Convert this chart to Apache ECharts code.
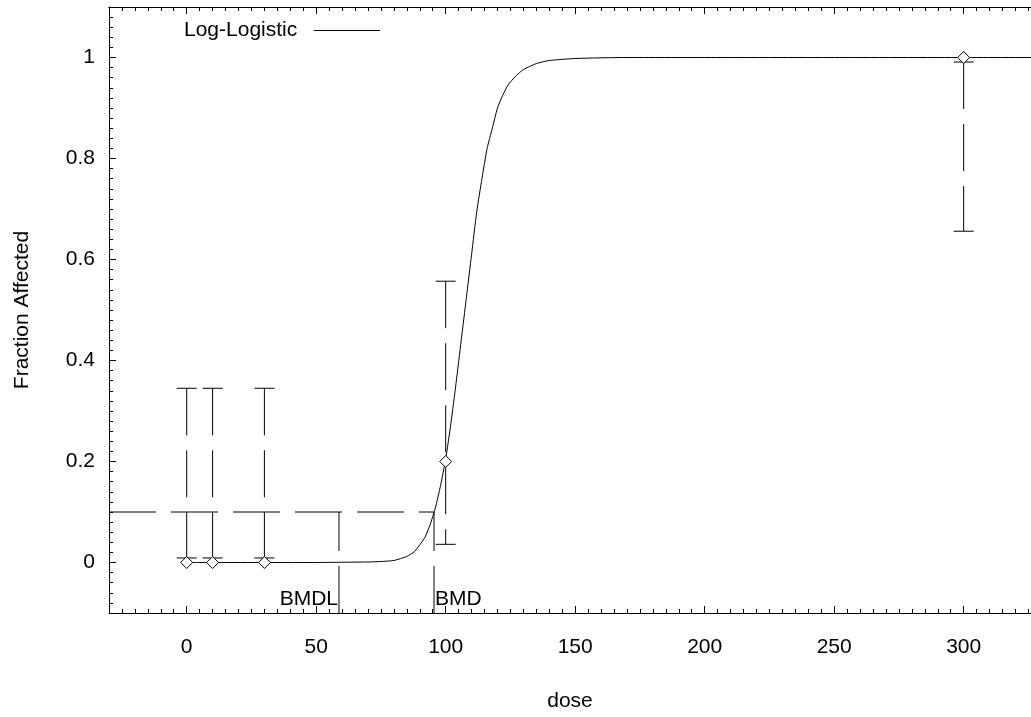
<!DOCTYPE html>
<html>
<head>
<meta charset="utf-8">
<title>Log-Logistic</title>
<script src="https://cdn.jsdelivr.net/npm/echarts@6/dist/echarts.min.js"></script>
<style>
  html, body { margin: 0; padding: 0; background: #fff; overflow: hidden; }
  #chart { width: 1031px; height: 717px; }
</style>
</head>
<body>
<div id="chart"></div>
<script>
// observed data (dose / fraction affected / confidence limits)
var doses = [0, 10, 30, 100, 300];
var fractions = [0, 0, 0, 0.2, 1];
var lowerCI = [0.009, 0.009, 0.009, 0.036, 0.656];
var upperCI = [0.345, 0.345, 0.345, 0.557, 0.991];

// fitted curve
var curveDose = [0, 10, 20, 30, 40, 50, 60, 70, 75, 80, 85, 88, 90, 92, 94, 96, 98, 100,
  102, 104, 106, 108, 110, 112, 114, 116, 118, 120, 122, 124, 127, 130, 135, 140, 150, 170, 200, 250, 300, 330];
var curveFrac = [0, 0, 0, 0, 0, 0, 0.0005, 0.001, 0.002, 0.004, 0.012, 0.022, 0.035, 0.05, 0.075, 0.108, 0.152, 0.205,
  0.275, 0.355, 0.44, 0.525, 0.61, 0.695, 0.76, 0.82, 0.86, 0.9, 0.925, 0.945, 0.963, 0.976, 0.988, 0.994, 0.998, 1, 1, 1, 1, 1];

// benchmark dose markers
var bmr = 0.1;
var bmd = 95.5;
var bmdl = 58.8;

// axes
var xMin = -30, xMax = 326;
var yMin = -0.1, yMax = 1.1;
var xMajor = [0, 50, 100, 150, 200, 250, 300];
var yMajor = [0, 0.2, 0.4, 0.6, 0.8, 1];
var xMinor = [];
for (var v = -30; v <= 325; v += 5) xMinor.push(v);
var yMinor = [];
for (var k = -5; k <= 55; k++) yMinor.push(Math.round(k * 2) / 100);

var FONT = 'Liberation Sans, Arial, Helvetica, sans-serif';
var DASH = [47, 15];

var chart = echarts.init(document.getElementById('chart'));

function xAx(pos, ticks, len, labels) {
  return {
    type: 'value', position: pos, min: xMin, max: xMax,
    axisLine: { show: labels !== null || pos === 'top', onZero: false, lineStyle: { color: '#000', width: 1 } },
    axisTick: { show: true, inside: true, length: len, customValues: ticks, lineStyle: { color: '#000' } },
    axisLabel: labels ? { show: true, customValues: labels, margin: 24, fontSize: 21, color: '#000', fontFamily: FONT } : { show: false },
    splitLine: { show: false }
  };
}
function yAx(ticks, len, labels) {
  return {
    type: 'value', position: 'left', min: yMin, max: yMax,
    axisLine: { show: !!labels, onZero: false, lineStyle: { color: '#000', width: 1 } },
    axisTick: { show: true, inside: true, length: len, customValues: ticks, lineStyle: { color: '#000' } },
    axisLabel: labels ? { show: true, customValues: labels, margin: 14, fontSize: 21, color: '#000', fontFamily: FONT } : { show: false },
    splitLine: { show: false }
  };
}

var xBottom = xAx('bottom', xMajor, 7, xMajor);
xBottom.name = 'dose';
xBottom.nameLocation = 'middle';
xBottom.nameGap = 78;
xBottom.nameTextStyle = { fontSize: 21, color: '#000', fontFamily: FONT };

var yLeft = yAx(yMajor, 7, yMajor);
yLeft.name = 'Fraction Affected';
yLeft.nameLocation = 'middle';
yLeft.nameGap = 76;
yLeft.nameTextStyle = { fontSize: 21, color: '#000', fontFamily: FONT };

var option = {
  animation: false,
  backgroundColor: '#fff',
  grid: { left: 109, right: 0, top: 7, bottom: 99, containLabel: false },
  legend: {
    data: ['Log-Logistic'],
    left: 184, top: 20, padding: 0,
    align: 'right',
    icon: 'rect',
    itemWidth: 66, itemHeight: 1,
    formatter: function (n) { return n + '  '; },
    textStyle: { fontSize: 21, color: '#000', fontFamily: FONT }
  },
  xAxis: [
    xBottom,
    xAx('bottom', xMinor, 4, null),
    xAx('top', xMajor, 7, null),
    xAx('top', xMinor, 4, null)
  ],
  yAxis: [
    yLeft,
    yAx(yMinor, 4, null)
  ],
  series: [
    {
      name: 'BMR line',
      type: 'line',
      silent: true,
      symbol: 'none',
      data: [[xMin, bmr], [bmd, bmr]],
      lineStyle: { color: '#000', width: 1, type: DASH },
      z: 1
    },
    {
      name: 'BMD line',
      type: 'line',
      silent: true,
      symbol: 'none',
      data: [[bmd, yMin], [bmd, bmr]],
      lineStyle: { color: '#000', width: 1, type: DASH },
      z: 1
    },
    {
      name: 'BMDL line',
      type: 'line',
      silent: true,
      symbol: 'none',
      data: [[bmdl, yMin], [bmdl, bmr]],
      lineStyle: { color: '#000', width: 1, type: DASH },
      z: 1
    },
    {
      name: 'BMD labels',
      type: 'custom',
      silent: true,
      data: [[bmdl, yMin, 0], [bmd, yMin, 1]],
      renderItem: function (params, api) {
        var p = api.coord([api.value(0), api.value(1)]);
        var right = api.value(2) === 0;
        return {
          type: 'text',
          style: {
            text: right ? 'BMDL' : 'BMD',
            x: right ? p[0] - 1 : p[0] + 1,
            y: p[1] - 3,
            align: right ? 'right' : 'left',
            verticalAlign: 'bottom',
            fontSize: 21,
            fontFamily: FONT,
            fill: '#000'
          }
        };
      },
      z: 2
    },
    {
      name: 'Error bars',
      type: 'custom',
      silent: true,
      encode: { x: 0, y: [1, 2] },
      data: doses.map(function (d, i) { return [d, lowerCI[i], upperCI[i]]; }),
      renderItem: function (params, api) {
        var top = api.coord([api.value(0), api.value(2)]);
        var bot = api.coord([api.value(0), api.value(1)]);
        var w = 10;
        return {
          type: 'group',
          children: [
            { type: 'line', shape: { x1: top[0], y1: top[1], x2: bot[0], y2: bot[1] },
              style: { stroke: '#000', lineWidth: 1, lineDash: DASH } },
            { type: 'line', shape: { x1: top[0] - w, y1: top[1], x2: top[0] + w, y2: top[1] },
              style: { stroke: '#000', lineWidth: 1 } },
            { type: 'line', shape: { x1: bot[0] - w, y1: bot[1], x2: bot[0] + w, y2: bot[1] },
              style: { stroke: '#000', lineWidth: 1 } }
          ]
        };
      },
      z: 2
    },
    {
      name: 'Log-Logistic',
      type: 'line',
      symbol: 'none',
      smooth: 0.2,
      data: curveDose.map(function (d, i) { return [d, curveFrac[i]]; }),
      lineStyle: { color: '#000', width: 1 },
      itemStyle: { color: '#000' },
      z: 3
    },
    {
      name: 'Observed',
      type: 'scatter',
      symbol: 'diamond',
      symbolSize: 12,
      data: doses.map(function (d, i) { return [d, fractions[i]]; }),
      itemStyle: { color: '#fff', borderColor: '#000', borderWidth: 1, opacity: 1 },
      z: 4
    }
  ]
};

chart.setOption(option);
</script>
</body>
</html>
